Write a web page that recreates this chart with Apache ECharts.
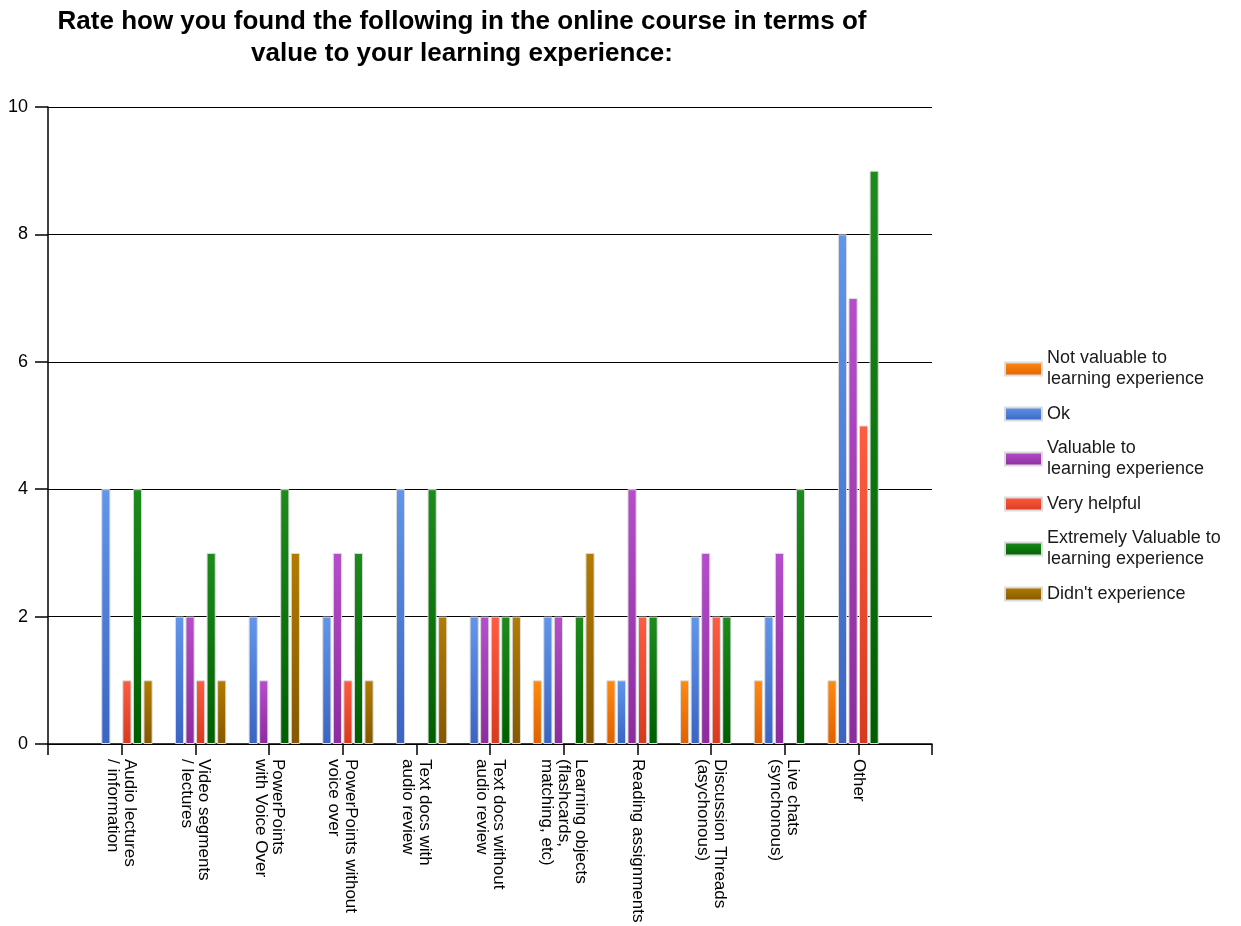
<!DOCTYPE html>
<html>
<head>
<meta charset="utf-8">
<script src="https://cdn.jsdelivr.net/npm/echarts@6/dist/echarts.min.js"></script>
<style>
html,body{margin:0;padding:0;background:#fff;}
#chart{width:1241px;height:926px;}
</style>
</head>
<body>
<div id="chart"></div>
<script>
var titleText = "Rate how you found the following in the online course in terms of\nvalue to your learning experience:";
var categories = [
  "Audio lectures\n/ information",
  "Video segments\n/ lectures",
  "PowerPoints\nwith Voice Over",
  "PowerPoints without\nvoice over",
  "Text docs with\naudio review",
  "Text docs without\naudio review",
  "Learning objects\n(flashcards,\nmatching, etc)",
  "Reading assignments",
  "Discussion Threads\n(asychonous)",
  "Live chats\n(synchonous)",
  "Other"
];
var seriesNames = [
  "Not valuable to\nlearning experience",
  "Ok",
  "Valuable to\nlearning experience",
  "Very helpful",
  "Extremely Valuable to\nlearning experience",
  "Didn't experience"
];
var notValuable = [0, 0, 0, 0, 0, 0, 1, 1, 1, 1, 1];
var ok          = [4, 2, 2, 2, 4, 2, 2, 1, 2, 2, 8];
var valuable    = [0, 2, 1, 3, 0, 2, 2, 4, 3, 3, 7];
var veryHelpful = [1, 1, 0, 1, 0, 2, 0, 2, 2, 0, 5];
var extremely   = [4, 3, 4, 3, 4, 2, 2, 2, 2, 4, 9];
var didntExp    = [1, 1, 3, 1, 2, 2, 3, 0, 0, 0, 0];
var yTicks = [0, 2, 4, 6, 8, 10];

var seriesData = [notValuable, ok, valuable, veryHelpful, extremely, didntExp];
var colorPairs = [
  ["#ff8a10", "#e06000"],
  ["#6196ec", "#3a64c2"],
  ["#b64ecb", "#8c2b9e"],
  ["#ff5c42", "#d83a1e"],
  ["#1c8c1c", "#005e00"],
  ["#b27c00", "#855800"]
];

var axisCats = [""].concat(categories).concat([""]);
var series = seriesData.map(function (arr, i) {
  return {
    name: seriesNames[i],
    type: "bar",
    barGap: "15%",
    barCategoryGap: "16%",
    data: [null].concat(arr.map(function (v) { return v === 0 ? null : v; })).concat([null]),
    itemStyle: {
      color: new echarts.graphic.LinearGradient(0, 0, 0, 1, [
        { offset: 0, color: colorPairs[i][0] },
        { offset: 1, color: colorPairs[i][1] }
      ]),
      borderColor: "#dcdcdc",
      borderWidth: 1
    },
    emphasis: { disabled: true },
    animation: false
  };
});

var chart = echarts.init(document.getElementById("chart"));
chart.setOption({
  animation: false,
  backgroundColor: "#ffffff",
  textStyle: { fontFamily: "Liberation Sans, Arial, sans-serif" },
  title: {
    text: titleText,
    left: 457,
    top: 1,
    textAlign: "center",
    textStyle: {
      fontSize: 26,
      fontWeight: "bold",
      lineHeight: 32,
      color: "#000",
      fontFamily: "Liberation Sans, Arial, sans-serif"
    }
  },
  legend: {
    orient: "vertical",
    left: 999,
    top: 343,
    itemWidth: 37,
    itemHeight: 13,
    itemGap: 13.5,
    icon: "rect",
    data: seriesNames,
    textStyle: {
      fontSize: 18,
      lineHeight: 21,
      color: "#1a1a1a",
      fontFamily: "Liberation Sans, Arial, sans-serif"
    }
  },
  grid: { left: 48, right: 309, top: 107, bottom: 182, containLabel: false },
  xAxis: {
    type: "category",
    data: axisCats,
    boundaryGap: false,
    axisLine: { show: true, lineStyle: { color: "#000", width: 1.5 } },
    axisTick: { show: true, interval: 0, length: 11, lineStyle: { color: "#000", width: 1.5 } },
    axisLabel: {
      interval: 0,
      rotate: -90,
      margin: 15,
      fontSize: 17,
      lineHeight: 17,
      color: "#000",
      fontFamily: "Liberation Sans, Arial, sans-serif"
    },
    splitLine: { show: false }
  },
  yAxis: {
    type: "value",
    min: yTicks[0],
    max: yTicks[yTicks.length - 1],
    interval: 2,
    axisLine: { show: true, lineStyle: { color: "#000", width: 1.5 } },
    axisTick: { show: true, length: 13, lineStyle: { color: "#000", width: 1.5 } },
    axisLabel: {
      margin: 20,
      fontSize: 18,
      color: "#000",
      fontFamily: "Liberation Sans, Arial, sans-serif"
    },
    splitLine: { show: true, lineStyle: { color: "#000", width: 1.2 } }
  },
  series: series
});
</script>
</body>
</html>
